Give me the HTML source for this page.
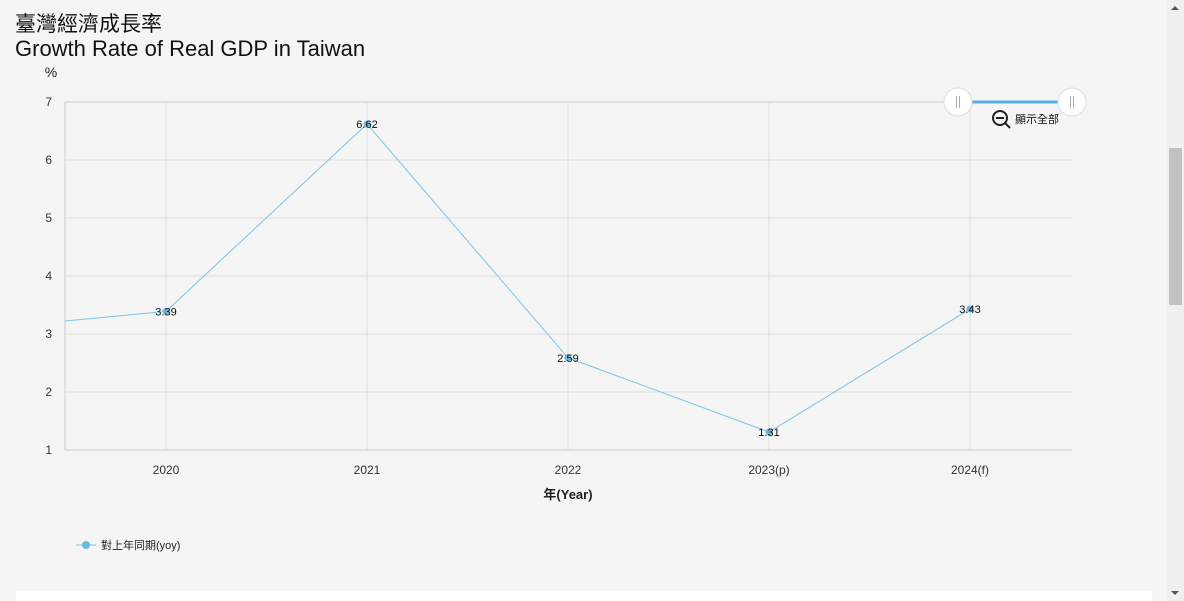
<!DOCTYPE html>
<html><head><meta charset="utf-8">
<style>
html,body{margin:0;padding:0;width:1184px;height:601px;overflow:hidden;background:#f5f5f5;font-family:"Liberation Sans","Noto Sans CJK TC",sans-serif;}
.t1{position:absolute;left:15px;top:8px;font-size:21px;color:#111;}
.t2{position:absolute;left:15px;top:36px;font-size:22px;color:#111;}
#sb{position:absolute;left:1167px;top:0;width:17px;height:601px;background:#f0f0f0;}
#thumb{position:absolute;left:2px;top:148px;width:13px;height:157px;background:#c1c1c1;}
#bottom{position:absolute;left:16px;top:591px;width:1136px;height:10px;background:#fff;}
</style></head><body>
<div class="t1">臺灣經濟成長率</div>
<div class="t2">Growth Rate of Real GDP in Taiwan</div>
<svg id="chart" width="1167" height="590" style="position:absolute;left:0;top:0"></svg>
<div id="sb"><div style="position:absolute;left:4px;top:6px;width:0;height:0;border-left:4px solid transparent;border-right:4px solid transparent;border-bottom:4px solid #555"></div><div id="thumb"></div><div style="position:absolute;left:4px;top:591px;width:0;height:0;border-left:4px solid transparent;border-right:4px solid transparent;border-top:4px solid #555"></div></div>
<div id="bottom"></div>
<script>
const categories=["2019","2020","2021","2022","2023(p)","2024(f)"];
const values=[3.06,3.39,6.62,2.59,1.31,3.43];
const showLabel=[false,true,true,true,true,true];
const yTicks=[1,2,3,4,5,6,7];
const NS="http://www.w3.org/2000/svg";
const svg=document.getElementById('chart');
const L=65,R=1072,T=102,B=450,yMin=1,yMax=7;
const step=201, x0=166;
function xs(i){return x0+(i-1)*step;}
function ys(v){return B-(v-yMin)/(yMax-yMin)*(B-T);}
function mk(t,a,txt){const e=document.createElementNS(NS,t);for(const k in a)e.setAttribute(k,a[k]);if(txt!==undefined)e.textContent=txt;svg.appendChild(e);return e;}
const defs=mk('defs',{});const cp=document.createElementNS(NS,'clipPath');cp.setAttribute('id','c');const cr=document.createElementNS(NS,'rect');cr.setAttribute('x',L);cr.setAttribute('y',T-10);cr.setAttribute('width',R-L);cr.setAttribute('height',B-T+20);cp.appendChild(cr);defs.appendChild(cp);
yTicks.forEach(v=>{
 let g=mk('line',{x1:L,x2:R,y1:ys(v),y2:ys(v),stroke:v===7?'#ccc':'#ddd','stroke-width':1});
 
 let t=mk('text',{x:52,y:ys(v)+4,'font-size':12,'text-anchor':'end',fill:'#333'},v);
 
});
categories.forEach((c,i)=>{
 if(i===0)return;
 let g=mk('line',{x1:xs(i),x2:xs(i),y1:T,y2:B,stroke:'#ddd'});
 
 let t=mk('text',{x:xs(i),y:474,'font-size':12,'text-anchor':'middle',fill:'#333'},c);
 
});
let ax=mk('line',{x1:L,x2:L,y1:T,y2:B,stroke:'#ccc'});
let bx=mk('line',{x1:L,x2:R,y1:B,y2:B,stroke:'#ccc'});
let yt=mk('text',{x:51,y:77,'font-size':14,'text-anchor':'middle',fill:'#222'},'%');
let xt=mk('text',{x:568,y:499,'font-size':13,'font-weight':'bold','text-anchor':'middle',fill:'#222'},'年(Year)');
let d=values.map((v,i)=>(i?'L':'M')+xs(i)+','+ys(v)).join(' ');
let p=mk('path',{d:d,fill:'none',stroke:'#7cc4e4','stroke-width':1,'clip-path':'url(#c)'});

values.forEach((v,i)=>{
 if(i===0)return;
 let c=mk('circle',{cx:xs(i),cy:ys(v),r:3.5,fill:'#6bb9df'});
 
 if(showLabel[i]){let t=mk('text',{x:xs(i),y:ys(v)+4,'font-size':11,'text-anchor':'middle',fill:'#111'},v.toFixed(2));
 }
});
// slider
let sl=mk('line',{x1:958,x2:1072,y1:102,y2:102,stroke:'#5aafdc','stroke-width':3});
[958,1072].forEach(x=>{
 let h=mk('circle',{cx:x,cy:102,r:14,fill:'#fff',stroke:'#ddd','stroke-width':1});
 
 mk('line',{x1:x-1.5,x2:x-1.5,y1:96,y2:108,stroke:'#aaa'});mk('line',{x1:x+1.5,x2:x+1.5,y1:96,y2:108,stroke:'#aaa'});
});
let zi=mk('g',{});
zi.innerHTML='<circle cx="1000" cy="118" r="7" fill="none" stroke="#222" stroke-width="2"/><line x1="996" y1="118" x2="1004" y2="118" stroke="#222" stroke-width="2"/><line x1="1005" y1="123" x2="1010" y2="128" stroke="#222" stroke-width="2"/><text x="1015" y="123" font-size="11" fill="#111">顯示全部</text>';
// legend
let lg=mk('g',{});
lg.innerHTML='<line x1="76" x2="96" y1="545" y2="545" stroke="#7cc4e4" stroke-width="1"/><circle cx="86" cy="545" r="4" fill="#6bb9df"/><text x="101" y="549" font-size="11" fill="#222">對上年同期(yoy)</text>';
</script>
</body></html>
